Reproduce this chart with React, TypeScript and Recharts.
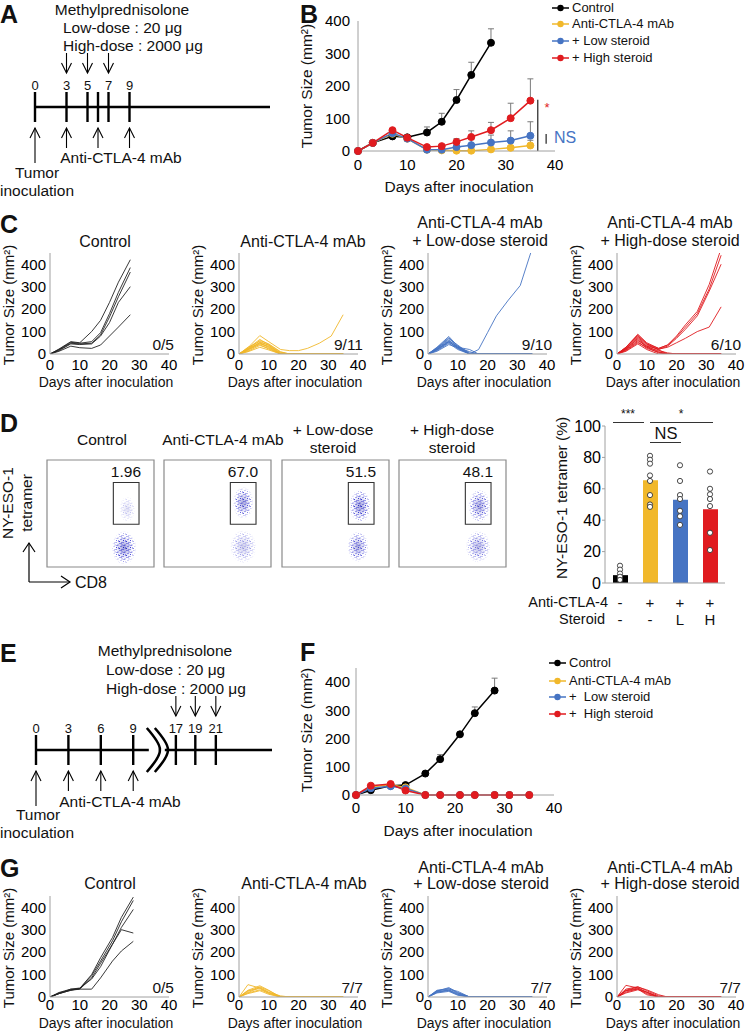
import React from 'react';
import {
  LineChart, Line, XAxis, YAxis, ErrorBar, ReferenceLine, ReferenceArea,
  ScatterChart, Scatter, ComposedChart, Bar, Cell,
} from 'recharts';

const FONT = '"Liberation Sans", Arial, Helvetica, sans-serif';
const AXIS = '#a0a0a0';
const YEL = '#F1B82B';
const BLU = '#4674C3';
const RED = '#E01B1F';
const TICK = { fill: '#000', fontSize: 15 };

// ---------- A / E: treatment schedules
const aTickDays = [0, 3, 5, 6, 7, 9];
const aTickLabels = ['0', '3', '5', '', '7', '9'];
const aSteroidDays = [3, 5, 7];
const aAntibodyDays = [3, 6, 9];
const tumorDay = [0];

// E has an axis break after day 9, later days sit at compressed positions
const eTickPos = [0, 3, 6, 9, 12.95, 14.75, 16.65];
const eTickLabels = ['0', '3', '6', '9', '17', '19', '21'];
const eSteroidPos = [12.95, 14.75, 16.65];
const eAntibodyPos = [3, 6, 9];
const eBreakPos = [11];

// ---------- B: mean tumor size (+SEM)
const bDays = [0, 3, 7, 10, 14, 17, 20, 23, 27, 31, 35];
const bControl = [0, 25, 45, 42, 57, 90, 157, 234, 333];
const bControlErr = [0, 0, 0, 0, 17, 26, 32, 39, 43];
const bAnti = [0, 25, 53, 38, 4, 2, 1, 1, 5, 10, 17];
const bAntiErr = [0, 0, 0, 0, 0, 0, 0, 0, 3, 5, 16];
const bLow = [0, 25, 55, 38, 4, 4, 12, 18, 26, 32, 47];
const bLowErr = [0, 0, 0, 0, 0, 0, 5, 17, 23, 30, 43];
const bHigh = [0, 25, 64, 41, 12, 15, 28, 43, 64, 101, 155];
const bHighErr = [0, 0, 0, 0, 0, 0, 10, 19, 24, 46, 67];

// ---------- C: individual mice
const cDays = [0, 3, 7, 10, 14, 17, 20, 23, 27, 31, 35];
const cControl = [
  [0, 22, 55, 50, 100, 150, 230, 320, 420],
  [0, 20, 52, 48, 55, 95, 180, 275, 385],
  [0, 18, 48, 45, 48, 85, 165, 255, 365],
  [0, 15, 45, 42, 45, 80, 140, 230, 300],
  [0, 12, 35, 28, 25, 40, 80, 120, 175],
];
const cAnti = [
  [0, 28, 82, 55, 20, 15, 15, 25, 48, 80, 175],
  [0, 25, 65, 42, 8, 0, 0, 0, 0, 0, 0],
  [0, 22, 60, 45, 10, 0, 0, 0, 0, 0, 0],
  [0, 30, 56, 38, 5, 0, 0, 0, 0, 0, 0],
  [0, 20, 52, 40, 0, 0, 0, 0, 0, 0, 0],
  [0, 18, 50, 32, 0, 0, 0, 0, 0, 0, 0],
  [0, 25, 48, 28, 0, 0, 0, 0, 0, 0, 0],
  [0, 15, 45, 34, 3, 0, 0, 0, 0, 0, 0],
  [0, 20, 42, 22, 0, 0, 0, 0, 0, 0, 0],
  [0, 12, 38, 25, 0, 0, 0, 0, 0, 0, 0],
  [0, 10, 30, 18, 0, 0, 0, 0, 0, 0, 0],
];
const cLow = [
  [0, 20, 55, 25, 0, 20, 95, 170, 240, 305, 470],
  [0, 30, 78, 35, 5, 0, 0, 0, 0, 0, 0],
  [0, 28, 72, 30, 20, 0, 0, 0, 0, 0, 0],
  [0, 25, 68, 40, 0, 0, 0, 0, 0, 0, 0],
  [0, 25, 62, 30, 0, 0, 0, 0, 0, 0, 0],
  [0, 22, 58, 35, 0, 0, 0, 0, 0, 0, 0],
  [0, 20, 55, 25, 0, 0, 0, 0, 0, 0, 0],
  [0, 18, 52, 30, 10, 0, 0, 0, 0, 0, 0],
  [0, 15, 48, 20, 0, 0, 0, 0, 0, 0, 0],
  [0, 12, 42, 28, 0, 0, 0, 0, 0, 0, 0],
];
const cHigh = [
  [0, 30, 88, 50, 25, 40, 80, 130, 190, 310, 470],
  [0, 28, 80, 45, 25, 40, 75, 120, 180, 290, 440],
  [0, 25, 75, 40, 20, 35, 70, 110, 170, 280, 400],
  [0, 22, 70, 35, 22, 30, 50, 70, 100, 120, 210],
  [0, 30, 84, 45, 18, 0, 0, 0, 0, 0, 0],
  [0, 25, 65, 30, 15, 5, 0, 0, 0, 0, 0],
  [0, 20, 60, 35, 10, 0, 0, 0, 0, 0, 0],
  [0, 18, 55, 25, 8, 0, 0, 0, 0, 0, 0],
  [0, 15, 50, 30, 5, 0, 0, 0, 0, 0, 0],
  [0, 12, 45, 20, 0, 0, 0, 0, 0, 0, 0],
];

// ---------- D: flow plots + tetramer bars
const flowTicks = [0.7, 2.1, 3.3, 4.5];
const gateCd8 = [3.1, 4.3];
const gateTet = [2.0, 3.95];
const ctrlClusters = [
  { cd8: 3.6, tet: 0.9, rx: 0.58, ry: 0.78, dens: 1 },
  { cd8: 3.75, tet: 2.7, rx: 0.38, ry: 0.6, dens: 0.3 },
];
const antiClusters = [
  { cd8: 3.7, tet: 3.0, rx: 0.48, ry: 0.75, dens: 0.9 },
  { cd8: 3.7, tet: 0.95, rx: 0.62, ry: 0.78, dens: 0.5 },
];
const lowClusters = [
  { cd8: 3.65, tet: 2.85, rx: 0.5, ry: 0.78, dens: 1 },
  { cd8: 3.55, tet: 0.95, rx: 0.5, ry: 0.72, dens: 0.85 },
];
const highClusters = [
  { cd8: 3.75, tet: 2.85, rx: 0.52, ry: 0.78, dens: 0.85 },
  { cd8: 3.7, tet: 0.95, rx: 0.58, ry: 0.75, dens: 0.7 },
];
const flowPct = ['1.96', '67.0', '51.5', '48.1'];

const dGroups = ['Control', 'Anti-CTLA-4', 'Low', 'High'];
const dMeans = [5, 65.5, 53, 47];
const dColors = ['#000', YEL, BLU, RED];
const dControlPts = [11, 8.5, 6, 4, 2];
const dAntiPts = [81, 78.5, 76, 68.5, 65, 56, 50, 48.5];
const dLowPts = [75, 65, 56, 53.5, 46, 42.5, 37];
const dHighPts = [71, 60, 56.5, 53.5, 49, 32, 21];
const dAntiLabels = ['-', '+', '+', '+'];
const dSteroidLabels = ['-', '-', 'L', 'H'];
const dYTicks = [0, 20, 40, 60, 80, 100];

// ---------- F: mean tumor size, late steroid
const fDays = [0, 3, 7, 10, 14, 17, 21, 24, 28, 31, 35];
const fControl = [0, 17, 33, 35, 76, 127, 215, 290, 370];
const fControlErr = [0, 3, 4, 3, 5, 16, 8, 22, 44];
const fAnti = [0, 28, 36, 27, 0, 0, 0, 0, 0, 0, 0];
const fLow = [0, 24, 31, 23, 0, 0, 0, 0, 0, 0, 0];
const fHigh = [0, 33, 39, 16, 0, 0, 0, 0, 0, 0, 0];

// ---------- G: individual mice, late steroid
const gDays = [0, 3, 7, 10, 14, 17, 21, 24, 28, 31, 35];
const gControl = [
  [0, 15, 30, 38, 100, 175, 265, 355, 445],
  [0, 18, 32, 38, 95, 160, 250, 335, 430],
  [0, 15, 30, 35, 85, 150, 235, 310, 390],
  [0, 20, 35, 40, 80, 135, 235, 300, 285],
  [0, 15, 35, 35, 35, 85, 160, 205, 248],
];
const gAnti = [
  [0, 55, 40, 20, 5, 0, 0, 0, 0, 0, 0],
  [0, 30, 50, 30, 0, 0, 0, 0, 0, 0, 0],
  [0, 25, 45, 28, 0, 0, 0, 0, 0, 0, 0],
  [0, 20, 42, 22, 0, 0, 0, 0, 0, 0, 0],
  [0, 28, 38, 15, 0, 0, 0, 0, 0, 0, 0],
  [0, 18, 32, 18, 0, 0, 0, 0, 0, 0, 0],
  [0, 15, 28, 12, 0, 0, 0, 0, 0, 0, 0],
];
const gLow = [
  [0, 25, 42, 20, 0, 0, 0, 0, 0, 0, 0],
  [0, 30, 38, 18, 0, 0, 0, 0, 0, 0, 0],
  [0, 28, 35, 25, 0, 0, 0, 0, 0, 0, 0],
  [0, 22, 32, 15, 0, 0, 0, 0, 0, 0, 0],
  [0, 20, 30, 12, 0, 0, 0, 0, 0, 0, 0],
  [0, 25, 28, 10, 0, 0, 0, 0, 0, 0, 0],
  [0, 18, 25, 8, 0, 0, 0, 0, 0, 0, 0],
];
const gHigh = [
  [0, 52, 40, 22, 0, 0, 0, 0, 0, 0, 0],
  [0, 35, 46, 28, 5, 0, 0, 0, 0, 0, 0],
  [0, 30, 44, 32, 10, 0, 0, 0, 0, 0, 0],
  [0, 28, 40, 20, 0, 0, 0, 0, 0, 0, 0],
  [0, 22, 36, 15, 0, 0, 0, 0, 0, 0, 0],
  [0, 18, 32, 22, 0, 0, 0, 0, 0, 0, 0],
  [0, 28, 35, 10, 0, 0, 0, 0, 0, 0, 0],
];

const xTicks40 = [0, 10, 20, 30, 40];
const yTicks400 = [0, 100, 200, 300, 400];

// ---------- helpers
function frame(p: any, yw: number, xh: number, m: any) {
  return {
    left: p.x - yw - m.left,
    top: p.y - m.top,
    width: m.left + yw + p.w + m.right,
    height: m.top + p.h + xh + m.bottom,
    margin: m,
  };
}

function At({ f, children }: any) {
  return <div style={{ position: 'absolute', left: f.left, top: f.top, width: f.width, height: f.height }}>{children}</div>;
}

function Txt({ x, y, children, size = 15.5, anchor = 'middle', color = '#111', bold = false, rot = false }: any) {
  const tx = anchor === 'start' ? '0' : anchor === 'end' ? '-100%' : '-50%';
  return (
    <div
      style={{
        position: 'absolute', left: x, top: y,
        transform: rot ? 'translate(-50%, -50%) rotate(-90deg)' : `translate(${tx}, -50%)`,
        fontSize: size, lineHeight: 1.15, whiteSpace: 'pre', color, fontWeight: bold ? 700 : 400,
      }}
    >
      {children}
    </div>
  );
}

const toRows = (days: number[], mice: number[][]) =>
  days.map((day, i) => {
    const r: any = { day };
    mice.forEach((m, k) => {
      if (m[i] !== undefined) r['m' + k] = m[i];
    });
    return r;
  });

const errPair = (e: number[], i: number) => (e[i] ? [0, e[i]] : undefined);

// ---------- schedule shapes
const TickMark = (p: any) => (
  <g>
    <line x1={p.cx} x2={p.cx} y1={p.cy - 15} y2={p.cy + 15} stroke="#000" strokeWidth={2.4} />
    {p.payload.label ? (
      <text x={p.cx} y={p.cy - 22} textAnchor="middle" dominantBaseline="central" fontSize={13} fill="#111">{p.payload.label}</text>
    ) : null}
  </g>
);
const DownArrow = (p: any) => (
  <g stroke="#000" strokeWidth={1.1} fill="none">
    <line x1={p.cx} x2={p.cx} y1={p.cy - 54} y2={p.cy - 34} />
    <polyline points={`${p.cx - 5},${p.cy - 44} ${p.cx},${p.cy - 34} ${p.cx + 5},${p.cy - 44}`} />
  </g>
);
const upArrow = (tail: number) => (p: any) => (
  <g stroke="#000" strokeWidth={1.1} fill="none">
    <line x1={p.cx} x2={p.cx} y1={p.cy + 21} y2={p.cy + tail} />
    <polyline points={`${p.cx - 5},${p.cy + 31} ${p.cx},${p.cy + 21} ${p.cx + 5},${p.cy + 31}`} />
  </g>
);
const BreakMark = (p: any) => {
  const x = p.cx - 8;
  const y = p.cy;
  const chev = (dx: number) =>
    `M${x + dx},${y - 22} Q${x + dx + 14},${y - 6} ${x + dx + 13},${y} Q${x + dx + 14},${y + 6} ${x + dx},${y + 22}`;
  return (
    <g>
      <rect x={x + 2} y={y - 3} width={16} height={6} fill="#fff" />
      <path d={chev(0)} stroke="#000" strokeWidth={2.6} fill="none" />
      <path d={chev(8)} stroke="#000" strokeWidth={2.6} fill="none" />
    </g>
  );
};

function Schedule({ plot, domain, tickPos, tickLabels, steroid, antibody, tumor, breaks }: any) {
  const f = frame(plot, 0, 0, { top: 60, right: 10, bottom: 60, left: plot.x });
  const pts = (arr: number[]) => arr.map((pos) => ({ pos, y: 0 }));
  const tickData = tickPos.map((pos: number, i: number) => ({ pos, y: 0, label: tickLabels[i] }));
  return (
    <At f={f}>
      <ScatterChart width={f.width} height={f.height} margin={f.margin}>
        <XAxis type="number" dataKey="pos" domain={domain} hide />
        <YAxis type="number" dataKey="y" domain={[-1, 1]} hide />
        <ReferenceLine y={0} stroke="#000" strokeWidth={2.4} />
        <Scatter data={tickData} shape={TickMark} isAnimationActive={false} />
        <Scatter data={pts(breaks)} shape={BreakMark} isAnimationActive={false} />
        <Scatter data={pts(steroid)} shape={DownArrow} isAnimationActive={false} />
        <Scatter data={pts(antibody)} shape={upArrow(41)} isAnimationActive={false} />
        <Scatter data={pts(tumor)} shape={upArrow(56)} isAnimationActive={false} />
      </ScatterChart>
    </At>
  );
}

function Spaghetti({ x0, top, days, mice, color, ratio, xts, xtm, xl }: any) {
  const rows = toRows(days, mice);
  const f = frame({ x: x0, y: top, w: 119, h: 101 }, 40, 24, { top: 4, right: 14, bottom: 0, left: 0 });
  return (
    <>
      <At f={f}>
        <LineChart width={f.width} height={f.height} data={rows} margin={f.margin}>
          <XAxis type="number" dataKey="day" domain={[0, 40]} ticks={xTicks40} interval={0} stroke={AXIS}
            tickLine={false} tickSize={xts} tickMargin={xtm} tick={TICK} height={24} />
          <YAxis type="number" domain={[0, 450]} ticks={yTicks400} interval={0} allowDataOverflow stroke={AXIS}
            tickLine={false} tickSize={3} tickMargin={1} tick={TICK} width={40} />
          {mice.map((_: any, k: number) => (
            <Line key={k} dataKey={'m' + k} stroke={color} strokeWidth={0.9} dot={false} activeDot={false} isAnimationActive={false} />
          ))}
        </LineChart>
      </At>
      <Txt x={x0 + 124} y={top + 92} anchor="end">{ratio}</Txt>
      <Txt x={x0 - 41} y={top + 52} size={15} rot>Tumor Size (mm²)</Txt>
      <Txt x={x0 + 56} y={top + xl} size={14}>Days after inoculation</Txt>
    </>
  );
}

const Cloud = (p: any) => {
  const PX = 107 / 5;
  const { cx, cy, payload } = p;
  const rx = payload.rx * PX;
  const ry = payload.ry * PX;
  return (
    <g opacity={payload.dens}>
      <ellipse cx={cx} cy={cy} rx={rx} ry={ry} fill="url(#speckle)" mask="url(#cloudFade)" />
      <ellipse cx={cx} cy={cy} rx={rx * 0.7} ry={ry * 0.7} fill="url(#cloudCore)" />
    </g>
  );
};

function Flow({ x0, clusters, pct }: any) {
  const f = frame({ x: x0, y: 460, w: 107, h: 107 }, 5, 5, { top: 2, right: 2, bottom: 0, left: 0 });
  return (
    <>
      <At f={f}>
        <ScatterChart width={f.width} height={f.height} margin={f.margin}>
          <XAxis type="number" dataKey="cd8" domain={[0, 5]} ticks={flowTicks} interval={0} tick={false}
            tickSize={3} axisLine={false} stroke="#888" height={5} />
          <YAxis type="number" dataKey="tet" domain={[0, 5]} ticks={flowTicks} interval={0} tick={false}
            tickSize={3} axisLine={false} stroke="#888" width={5} />
          <ReferenceArea x1={0} x2={5} y1={0} y2={5} stroke="#8a8a8a" strokeWidth={1.2} fill="none" />
          <Scatter data={clusters} shape={Cloud} isAnimationActive={false} />
          <ReferenceArea x1={gateCd8[0]} x2={gateCd8[1]} y1={gateTet[0]} y2={gateTet[1]} stroke="#333"
            strokeWidth={1.1} fill="none" />
        </ScatterChart>
      </At>
      <Txt x={x0 + 94} y={472} anchor="end">{pct}</Txt>
    </>
  );
}

const GroupTick = (p: any) => {
  const i = dGroups.indexOf(p.payload.value);
  return (
    <g fill="#111">
      <text x={p.x} y={p.y + 19} textAnchor="middle" dominantBaseline="central" fontSize={15}>{dAntiLabels[i]}</text>
      <text x={p.x} y={p.y + 36} textAnchor="middle" dominantBaseline="central" fontSize={15}>{dSteroidLabels[i]}</text>
    </g>
  );
};

function LegendRow({ x, y, color, label }: any) {
  return (
    <>
      <svg style={{ position: 'absolute', left: x, top: y - 5 }} width={18} height={10}>
        <line x1={0} y1={5} x2={17} y2={5} stroke={color} strokeWidth={1.5} />
        <circle cx={8.5} cy={5} r={3.2} fill={color} />
      </svg>
      <Txt x={x + 20} y={y} anchor="start" size={13}>{label}</Txt>
    </>
  );
}

function Defs() {
  const dots = [[0.5, 1], [3.5, 0], [5.5, 2.5], [1.5, 4], [4, 5], [6, 5.5], [2.5, 2.5], [0, 6], [4.5, 3], [2, 0.5]];
  return (
    <svg width={0} height={0} style={{ position: 'absolute' }}>
      <defs>
        <pattern id="speckle" width={7} height={7} patternUnits="userSpaceOnUse">
          {dots.map(([x, y], i) => (
            <rect key={i} x={x} y={y} width={1} height={1} fill="#2a2ad2" />
          ))}
        </pattern>
        <radialGradient id="fadeGrad">
          <stop offset="0" stopColor="#fff" stopOpacity={1} />
          <stop offset="0.65" stopColor="#fff" stopOpacity={0.85} />
          <stop offset="1" stopColor="#fff" stopOpacity={0} />
        </radialGradient>
        <mask id="cloudFade" maskContentUnits="objectBoundingBox">
          <rect x={0} y={0} width={1} height={1} fill="url(#fadeGrad)" />
        </mask>
        <radialGradient id="cloudCore">
          <stop offset="0" stopColor="#1c1ca8" stopOpacity={0.45} />
          <stop offset="1" stopColor="#3434cc" stopOpacity={0} />
        </radialGradient>
      </defs>
    </svg>
  );
}

const Hline = ({ x1, x2, y }: any) => (
  <div style={{ position: 'absolute', left: x1, top: y, width: x2 - x1, height: 0, borderTop: '1.2px solid #333' }} />
);

export default function App() {
  const bRows = bDays.map((day, i) => ({
    day,
    control: bControl[i],
    controlErr: i < bControl.length ? errPair(bControlErr, i) : undefined,
    anti: bAnti[i], antiErr: errPair(bAntiErr, i),
    low: bLow[i], lowErr: errPair(bLowErr, i),
    high: bHigh[i], highErr: errPair(bHighErr, i),
  }));
  const fRows = fDays.map((day, i) => ({
    day,
    control: fControl[i],
    controlErr: i < fControl.length ? errPair(fControlErr, i) : undefined,
    anti: fAnti[i], low: fLow[i], high: fHigh[i],
  }));
  const dPts = [dControlPts, dAntiPts, dLowPts, dHighPts];
  const dRows = dGroups.map((group, i) => {
    const r: any = { group, mean: dMeans[i] };
    dPts[i].forEach((v, k) => { r['p' + k] = v; });
    return r;
  });
  const dotKeys = ['p0', 'p1', 'p2', 'p3', 'p4', 'p5', 'p6', 'p7'];

  const bF = frame({ x: 358, y: 21, w: 197, h: 130 }, 45, 30, { top: 12, right: 12, bottom: 0, left: 0 });
  const fF = frame({ x: 356, y: 668, w: 198, h: 127 }, 45, 30, { top: 5, right: 12, bottom: 0, left: 0 });
  const dF = frame({ x: 605, y: 426, w: 120, h: 157 }, 40, 45, { top: 12, right: 5, bottom: 0, left: 0 });

  const meanLine = (key: string, color: string, errKey?: string) => (
    <Line key={key} dataKey={key} stroke={color} strokeWidth={1.5} dot={{ r: 3.5, fill: color, stroke: color, strokeWidth: 1 }}
      activeDot={false} isAnimationActive={false}>
      {errKey ? <ErrorBar dataKey={errKey} direction="y" width={3} stroke="#7a7a7a" strokeWidth={1} /> : null}
    </Line>
  );

  const cX = [50, 239, 428, 617];
  const flowX = [47, 164, 282, 399];

  return (
    <div style={{ position: 'absolute', left: 0, top: 0, width: 745, height: 1032, background: '#fff', fontFamily: FONT, color: '#111', overflow: 'hidden' }}>
      <Defs />

      {/* ---------------- A ---------------- */}
      <Txt x={0} y={14} size={25} bold anchor="start">A</Txt>
      <Txt x={122} y={10}>Methylprednisolone</Txt>
      <Txt x={63} y={28} anchor="start">Low-dose : 20 μg</Txt>
      <Txt x={63} y={46} anchor="start">High-dose : 2000 μg</Txt>
      <Schedule plot={{ x: 35, y: 97, w: 235, h: 20 }} domain={[0, 22.38]} tickPos={aTickDays} tickLabels={aTickLabels}
        steroid={aSteroidDays} antibody={aAntibodyDays} tumor={tumorDay} breaks={[]} />
      <Txt x={121} y={158}>Anti-CTLA-4 mAb</Txt>
      <Txt x={37} y={173}>Tumor</Txt>
      <Txt x={37} y={191}>inoculation</Txt>

      {/* ---------------- B ---------------- */}
      <Txt x={300} y={14} size={25} bold anchor="start">B</Txt>
      <At f={bF}>
        <LineChart width={bF.width} height={bF.height} data={bRows} margin={bF.margin}>
          <XAxis type="number" dataKey="day" domain={[0, 40]} ticks={xTicks40} interval={0} stroke={AXIS}
            tickLine={false} tickSize={6} tickMargin={2} tick={TICK} height={30} />
          <YAxis type="number" domain={[0, 400]} ticks={yTicks400} interval={0} stroke={AXIS}
            tickLine={false} tickSize={6} tickMargin={2} tick={TICK} width={45} />
          <ReferenceLine segment={[{ x: 36.5, y: 0 }, { x: 36.5, y: 158 }]} stroke="#333" strokeWidth={1.3} />
          <ReferenceLine segment={[{ x: 38.2, y: 22 }, { x: 38.2, y: 52 }]} stroke="#333" strokeWidth={1.3} />
          {meanLine('control', '#000', 'controlErr')}
          {meanLine('anti', YEL, 'antiErr')}
          {meanLine('low', BLU, 'lowErr')}
          {meanLine('high', RED, 'highErr')}
        </LineChart>
      </At>
      <Txt x={307} y={86} rot>Tumor Size (mm²)</Txt>
      <Txt x={459} y={187}>Days after inoculation</Txt>
      <Txt x={547} y={108} size={13} color={RED}>*</Txt>
      <Txt x={554} y={138} size={16} color={BLU} anchor="start">NS</Txt>
      <LegendRow x={552} y={8} color="#000" label="Control" />
      <LegendRow x={552} y={24} color={YEL} label="Anti-CTLA-4 mAb" />
      <LegendRow x={552} y={41} color={BLU} label="+ Low steroid" />
      <LegendRow x={552} y={58} color={RED} label="+ High steroid" />

      {/* ---------------- C ---------------- */}
      <Txt x={0} y={224} size={25} bold anchor="start">C</Txt>
      <Txt x={105} y={242} size={16}>Control</Txt>
      <Txt x={303} y={242} size={16}>Anti-CTLA-4 mAb</Txt>
      <Txt x={480} y={223} size={16}>Anti-CTLA-4 mAb</Txt>
      <Txt x={480} y={241} size={16}>+ Low-dose steroid</Txt>
      <Txt x={670} y={223} size={16}>Anti-CTLA-4 mAb</Txt>
      <Txt x={670} y={241} size={16}>+ High-dose steroid</Txt>
      <Spaghetti x0={cX[0]} top={253} days={cDays} mice={cControl} color="#222" ratio="0/5" xts={3} xtm={2} xl={129} />
      <Spaghetti x0={cX[1]} top={253} days={cDays} mice={cAnti} color={YEL} ratio="9/11" xts={3} xtm={2} xl={129} />
      <Spaghetti x0={cX[2]} top={253} days={cDays} mice={cLow} color={BLU} ratio="9/10" xts={3} xtm={2} xl={129} />
      <Spaghetti x0={cX[3]} top={253} days={cDays} mice={cHigh} color={RED} ratio="6/10" xts={3} xtm={2} xl={129} />

      {/* ---------------- D ---------------- */}
      <Txt x={0} y={423} size={25} bold anchor="start">D</Txt>
      <Txt x={102} y={440}>Control</Txt>
      <Txt x={223} y={440}>Anti-CTLA-4 mAb</Txt>
      <Txt x={333} y={430}>+ Low-dose</Txt>
      <Txt x={333} y={448}>steroid</Txt>
      <Txt x={452} y={430}>+ High-dose</Txt>
      <Txt x={452} y={448}>steroid</Txt>
      <Flow x0={flowX[0]} clusters={ctrlClusters} pct={flowPct[0]} />
      <Flow x0={flowX[1]} clusters={antiClusters} pct={flowPct[1]} />
      <Flow x0={flowX[2]} clusters={lowClusters} pct={flowPct[2]} />
      <Flow x0={flowX[3]} clusters={highClusters} pct={flowPct[3]} />
      <Txt x={8} y={503} rot>NY-ESO-1</Txt>
      <Txt x={27} y={503} rot>tetramer</Txt>
      <svg style={{ position: 'absolute', left: 20, top: 535 }} width={60} height={55}>
        <g stroke="#000" strokeWidth={1.2} fill="none">
          <line x1={9} y1={47} x2={9} y2={8} />
          <polyline points="3,17 9,8 15,17" />
          <line x1={9} y1={47} x2={50} y2={47} />
          <polyline points="41,41 50,47 41,53" />
        </g>
      </svg>
      <Txt x={75} y={583} size={16} anchor="start">CD8</Txt>

      <At f={dF}>
        <ComposedChart width={dF.width} height={dF.height} data={dRows} margin={dF.margin}>
          <XAxis dataKey="group" interval={0} stroke={AXIS} tickLine={false} tickSize={0} tickMargin={0}
            tick={(p: any) => <GroupTick {...p} />} height={45} />
          <YAxis type="number" domain={[0, 100]} ticks={dYTicks} interval={0} stroke={AXIS}
            tickSize={3} tickMargin={1} tick={{ fill: '#000', fontSize: 16 }} width={40} />
          <Bar dataKey="mean" barSize={15} isAnimationActive={false}>
            {dRows.map((_, i) => <Cell key={i} fill={dColors[i]} />)}
          </Bar>
          {dotKeys.map((k) => (
            <Line key={k} dataKey={k} stroke="none" isAnimationActive={false} activeDot={false}
              dot={{ r: 2.6, fill: '#fff', stroke: '#333', strokeWidth: 0.9 }} />
          ))}
        </ComposedChart>
      </At>
      <Txt x={562} y={498} rot>NY-ESO-1 tetramer (%)</Txt>
      <Hline x1={613} x2={644} y={421.5} />
      <Hline x1={650} x2={713} y={421.5} />
      <Hline x1={650} x2={681} y={441.5} />
      <Txt x={628} y={415} size={12}>***</Txt>
      <Txt x={681} y={415} size={12}>*</Txt>
      <Txt x={666} y={433} size={16.5}>NS</Txt>
      <Txt x={608} y={602} size={14.5} anchor="end">Anti-CTLA-4</Txt>
      <Txt x={605} y={619} size={14.5} anchor="end">Steroid</Txt>

      {/* ---------------- E ---------------- */}
      <Txt x={0} y={653} size={25} bold anchor="start">E</Txt>
      <Txt x={165} y={651}>Methylprednisolone</Txt>
      <Txt x={106} y={670} anchor="start">Low-dose : 20 μg</Txt>
      <Txt x={106} y={689} anchor="start">High-dose : 2000 μg</Txt>
      <Schedule plot={{ x: 36, y: 740, w: 236, h: 20 }} domain={[0, 21.85]} tickPos={eTickPos} tickLabels={eTickLabels}
        steroid={eSteroidPos} antibody={eAntibodyPos} tumor={tumorDay} breaks={eBreakPos} />
      <Txt x={120} y={802}>Anti-CTLA-4 mAb</Txt>
      <Txt x={38} y={815}>Tumor</Txt>
      <Txt x={37} y={833}>inoculation</Txt>

      {/* ---------------- F ---------------- */}
      <Txt x={300} y={652} size={25} bold anchor="start">F</Txt>
      <At f={fF}>
        <LineChart width={fF.width} height={fF.height} data={fRows} margin={fF.margin}>
          <XAxis type="number" dataKey="day" domain={[0, 40]} ticks={xTicks40} interval={0} stroke={AXIS}
            tickLine={false} tickSize={5} tickMargin={2} tick={TICK} height={30} />
          <YAxis type="number" domain={[0, 450]} ticks={yTicks400} interval={0} stroke={AXIS}
            tickLine={false} tickSize={4} tickMargin={2} tick={TICK} width={45} />
          {meanLine('control', '#000', 'controlErr')}
          {meanLine('anti', YEL)}
          {meanLine('low', BLU)}
          {meanLine('high', RED)}
        </LineChart>
      </At>
      <Txt x={307} y={730} rot>Tumor Size (mm²)</Txt>
      <Txt x={458} y={831}>Days after inoculation</Txt>
      <LegendRow x={549} y={663} color="#000" label="Control" />
      <LegendRow x={549} y={681} color={YEL} label="Anti-CTLA-4 mAb" />
      <LegendRow x={549} y={697} color={BLU} label="+  Low steroid" />
      <LegendRow x={549} y={714} color={RED} label="+  High steroid" />

      {/* ---------------- G ---------------- */}
      <Txt x={0} y={868} size={25} bold anchor="start">G</Txt>
      <Txt x={110} y={884} size={16}>Control</Txt>
      <Txt x={304} y={884} size={16}>Anti-CTLA-4 mAb</Txt>
      <Txt x={481} y={868} size={16}>Anti-CTLA-4 mAb</Txt>
      <Txt x={481} y={884} size={16}>+ Low-dose steroid</Txt>
      <Txt x={670} y={868} size={16}>Anti-CTLA-4 mAb</Txt>
      <Txt x={670} y={884} size={16}>+ High-dose steroid</Txt>
      <Spaghetti x0={cX[0]} top={896} days={gDays} mice={gControl} color="#222" ratio="0/5" xts={1} xtm={1} xl={127} />
      <Spaghetti x0={cX[1]} top={896} days={gDays} mice={gAnti} color={YEL} ratio="7/7" xts={1} xtm={1} xl={127} />
      <Spaghetti x0={cX[2]} top={896} days={gDays} mice={gLow} color={BLU} ratio="7/7" xts={1} xtm={1} xl={127} />
      <Spaghetti x0={cX[3]} top={896} days={gDays} mice={gHigh} color={RED} ratio="7/7" xts={1} xtm={1} xl={127} />
    </div>
  );
}
